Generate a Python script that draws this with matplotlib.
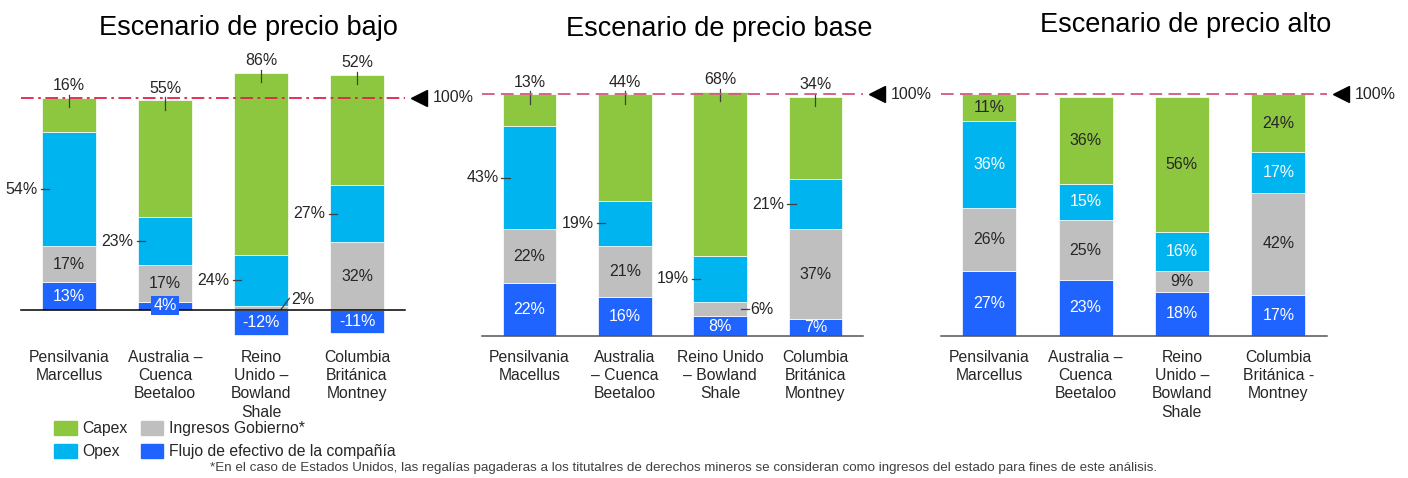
import matplotlib
matplotlib.use("Agg")
import matplotlib.pyplot as plt
import matplotlib.transforms as mtransforms
from matplotlib.patches import Patch

plt.rcParams["font.family"] = ["Liberation Sans", "DejaVu Sans"]

W, H = 1408, 478

# --- data (% of revenue) ---
series = ["Capex", "Opex", "Ingresos Gobierno*", "Flujo de efectivo de la compañía"]
colors = {"capex": "#8DC63F", "opex": "#00B4EF", "gob": "#BFBFBF", "flujo": "#1F64FF"}

titles = ["Escenario de precio bajo", "Escenario de precio base", "Escenario de precio alto"]

cats_bajo = ["Pensilvania\nMarcellus", "Australia –\nCuenca\nBeetaloo",
             "Reino\nUnido –\nBowland\nShale", "Columbia\nBritánica\nMontney"]
cats_base = ["Pensilvania\nMacellus", "Australia\n– Cuenca\nBeetaloo",
             "Reino Unido\n– Bowland\nShale", "Columbia\nBritánica\nMontney"]
cats_alto = ["Pensilvania\nMarcellus", "Australia –\nCuenca\nBeetaloo",
             "Reino\nUnido –\nBowland\nShale", "Columbia\nBritánica -\nMontney"]

flujo_bajo = [13, 4, -12, -11]
gob_bajo = [17, 17, 2, 32]
opex_bajo = [54, 23, 24, 27]
capex_bajo = [16, 55, 86, 52]

flujo_base = [22, 16, 8, 7]
gob_base = [22, 21, 6, 37]
opex_base = [43, 19, 19, 21]
capex_base = [13, 44, 68, 34]

flujo_alto = [27, 23, 18, 17]
gob_alto = [26, 25, 9, 42]
opex_alto = [36, 15, 16, 17]
capex_alto = [11, 36, 56, 24]

footnote = ("*En el caso de Estados Unidos, las regalías pagaderas a los titutalres de derechos "
            "mineros se consideran como ingresos del estado para fines de este análisis.")

# label placement per bar: (flujo, gob, opex, capex)
modes_bajo = [("in", "in", "left", "top"), ("box", "in", "left", "top"),
              ("in", "diag", "left", "top"), ("in", "in", "left", "top")]
modes_base = [("in", "in", "left", "top"), ("in", "in", "left", "top"),
              ("in", "right", "left", "top"), ("in", "in", "left", "top")]
modes_alto = [("in", "in", "in", "in")] * 4

# panel layout in pixels: x of left/right end, y of zero line, px per percent
layouts = [
    dict(x0=21, x1=405, zero=310, ppu=2.12, tx=248, ty=35,
         dash=(7, 2.5, 1.5, 2.5), dcol="#E0204E", bcol="black"),
    dict(x0=482, x1=863, zero=335.7, ppu=2.414, tx=719, ty=36,
         dash=(7, 3.5), dcol="#D4587F", bcol="#555555"),
    dict(x0=941, x1=1326.5, zero=335.7, ppu=2.414, tx=1186, ty=32,
         dash=(7, 3.5), dcol="#D4587F", bcol="#555555"),
]

DARK = "#262626"
LINE = "#404040"
FS = 11.5
FS_CAT = 11.3


def draw_panel(fig, lay, title, cats, flujo, gob, opex, capex, modes):
    top_px, bot_px = 45, 350
    ax = fig.add_axes([lay["x0"] / W, 1 - bot_px / H, (lay["x1"] - lay["x0"]) / W,
                       (bot_px - top_px) / H])
    ppu = lay["ppu"]
    ppx = (lay["x1"] - lay["x0"]) / 4.0
    ax.set_xlim(-0.5, 3.5)
    ax.set_ylim((lay["zero"] - bot_px) / ppu, (lay["zero"] - top_px) / ppu)
    ax.axis("off")
    bw = 0.56
    hw = bw / 2

    for i in range(4):
        f = flujo[i]
        b_gob = max(f, 0)
        b_opex = b_gob + gob[i]
        b_capex = b_opex + opex[i]
        segs = [("flujo", 0, f), ("gob", b_gob, gob[i]),
                ("opex", b_opex, opex[i]), ("capex", b_capex, capex[i])]
        for key, bottom, h in segs:
            ax.bar(i, h, bottom=bottom, width=bw, color=colors[key],
                   edgecolor="white", linewidth=0.5)
        for (key, bottom, h), mode in zip(segs, modes[i]):
            mid = bottom + h / 2
            top = bottom + h
            s = f"{h}%"
            if mode == "in":
                c = "white" if key in ("flujo", "opex") else DARK
                ax.text(i, mid, s, ha="center", va="center", color=c, fontsize=FS)
            elif mode == "box":
                ax.text(i, mid, s, ha="center", va="center", color="white", fontsize=FS,
                        bbox=dict(boxstyle="square,pad=0.12", fc=colors[key], ec="none"))
            elif mode == "top":
                ax.plot([i, i], [top + 3 / ppu, top - 9.5 / ppu], color=LINE, lw=0.9)
                ax.text(i, top + 12 / ppu, s, ha="center", va="center", color=DARK,
                        fontsize=FS, clip_on=False)
            elif mode == "left":
                ax.plot([i - hw - 1.5 / ppx, i - hw + 7 / ppx], [mid, mid], color=LINE, lw=0.9)
                ax.text(i - hw - 4.5 / ppx, mid, s, ha="right", va="center", color=DARK,
                        fontsize=FS)
            elif mode == "right":
                ax.plot([i + hw - 6 / ppx, i + hw + 2.7 / ppx], [mid, mid], color=LINE, lw=0.9)
                ax.text(i + hw + 3.5 / ppx, mid, s, ha="left", va="center", color=DARK,
                        fontsize=FS)
            elif mode == "diag":
                ax.plot([i + hw - 6.8 / ppx, i + hw + 1.5 / ppx],
                        [0.7 / ppu, 11.7 / ppu], color=LINE, lw=0.9)
                ax.text(i + hw + 3.5 / ppx, 10 / ppu, s, ha="left", va="center",
                        color=DARK, fontsize=FS)

    ax.plot([-0.5, 3.5], [0, 0], color=lay["bcol"], lw=1.1, clip_on=False)
    ax.plot([-0.5, 3.5], [100, 100], color=lay["dcol"], lw=1.3,
            dashes=lay["dash"], clip_on=False, zorder=5)
    ax.plot(3.65, 100, marker="<", ms=12, color="black", clip_on=False)
    ax.text(3.79, 100, "100%", ha="left", va="center", color=DARK, fontsize=FS,
            clip_on=False)

    trans = mtransforms.blended_transform_factory(ax.transData, fig.transFigure)
    for i, c in enumerate(cats):
        ax.text(i, 1 - 349.5 / H, c, transform=trans, ha="center", va="top",
                fontsize=FS_CAT, color=DARK, linespacing=1.28, clip_on=False)

    fig.text(lay["tx"] / W, 1 - lay["ty"] / H, title, ha="center", va="baseline",
             fontsize=19.5, color="black")


fig = plt.figure(figsize=(W / 100, H / 100), dpi=100)

draw_panel(fig, layouts[0], titles[0], cats_bajo, flujo_bajo, gob_bajo, opex_bajo,
           capex_bajo, modes_bajo)
draw_panel(fig, layouts[1], titles[1], cats_base, flujo_base, gob_base, opex_base,
           capex_base, modes_base)
draw_panel(fig, layouts[2], titles[2], cats_alto, flujo_alto, gob_alto, opex_alto,
           capex_alto, modes_alto)

handles = [Patch(color=colors["capex"]), Patch(color=colors["opex"]),
           Patch(color=colors["gob"]), Patch(color=colors["flujo"])]
labels = [series[0], series[1], series[2], series[3]]
fig.legend(handles, labels, ncol=2, loc="upper left", bbox_to_anchor=(54 / W, 1 - 421 / H),
           frameon=False, fontsize=FS_CAT, handlelength=1.44, handleheight=0.98,
           handletextpad=0.37, columnspacing=0.83, labelspacing=0.5, borderpad=0,
           borderaxespad=0, labelcolor=DARK)

fig.text(210 / W, 1 - 468 / H, footnote, ha="left", va="center", fontsize=9.6,
         color="#404040")

fig.savefig("out.png", dpi=100)
